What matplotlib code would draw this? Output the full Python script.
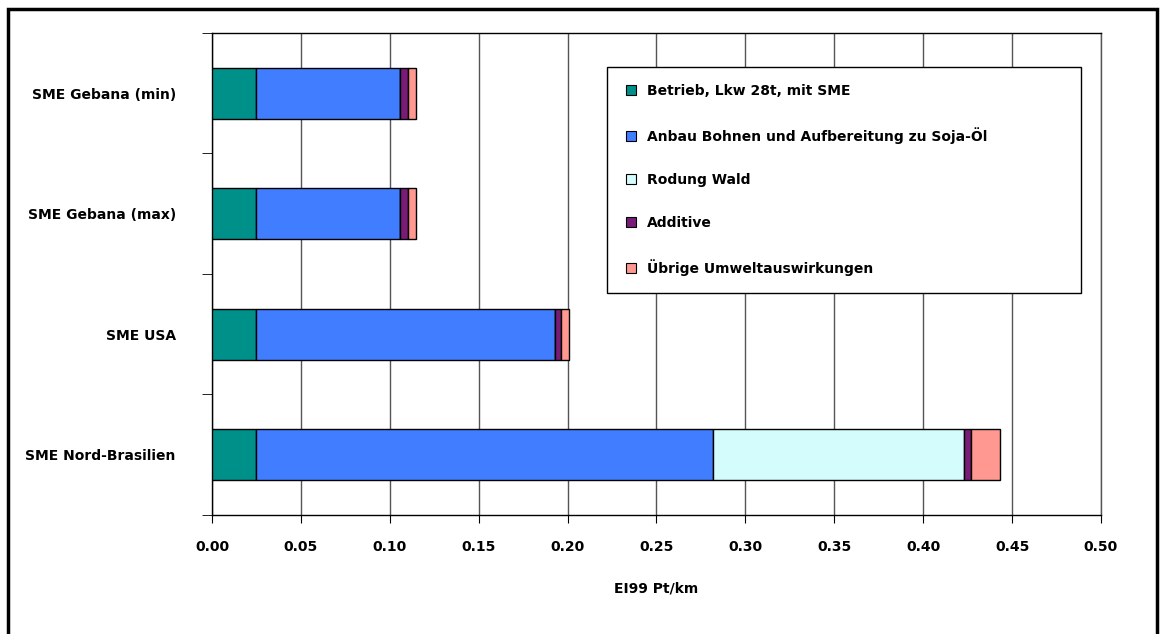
import matplotlib.pyplot as plt
import matplotlib.patches as mpatches
from matplotlib.lines import Line2D
import numpy as np

plt.rcParams['font.family'] = ['DejaVu Sans']
plt.rcParams['font.weight'] = 'bold'
plt.rcParams['axes.labelweight'] = 'bold'

# Kategorien (von unten nach oben)
kategorien = ['SME Nord-Brasilien', 'SME USA', 'SME Gebana (max)', 'SME Gebana (min)']

# Beiträge in EI99 Pt/km
betrieb = [0.025, 0.025, 0.025, 0.025]
anbau = [0.257, 0.168, 0.081, 0.081]
rodung = [0.141, 0.0, 0.0, 0.0]
additive = [0.004, 0.0035, 0.004, 0.004]
uebrige = [0.016, 0.0045, 0.005, 0.0045]

serien = [
    ('Betrieb, Lkw 28t, mit SME', betrieb, '#00908A'),
    ('Anbau Bohnen und Aufbereitung zu Soja-Öl', anbau, '#417EFF'),
    ('Rodung Wald', rodung, '#D4FCFC'),
    ('Additive', additive, '#781C78'),
    ('Übrige Umweltauswirkungen', uebrige, '#FF9890'),
]

fig = plt.figure(figsize=(11.62, 6.34), dpi=100)
ax = fig.add_axes([0.1824, 0.1877, 0.7651, 0.7603])

y = np.arange(len(kategorien))
links = np.zeros(len(kategorien))
for name, werte, farbe in serien:
    werte = np.array(werte)
    ax.barh(y, werte, left=links, height=0.42, color=farbe,
            edgecolor='black', linewidth=1, zorder=3)
    links += werte

ax.set_xlim(0, 0.5)
ax.set_ylim(-0.5, 3.5)
ax.set_xticks(np.arange(0, 0.5001, 0.05))
ax.set_xticklabels([f'{v:.2f}' for v in np.arange(0, 0.5001, 0.05)], fontsize=10)
ax.set_yticks(y)
ax.set_yticklabels(kategorien, fontsize=10)
ax.set_yticks(np.arange(-0.5, 3.6, 1.0), minor=True)
ax.tick_params(axis='y', which='major', length=0, pad=26)
ax.tick_params(axis='y', which='minor', length=7, direction='out', color='black')
ax.tick_params(axis='x', length=6, direction='out', pad=12)

ax.grid(axis='x', color='#555555', linewidth=1, zorder=0)
ax.set_axisbelow(True)
ax.spines['left'].set_color('black')
ax.spines['bottom'].set_color('black')
ax.spines['top'].set_color('black')
ax.spines['right'].set_color('#555555')
for s in ax.spines.values():
    s.set_linewidth(1)

ax.set_xlabel('EI99 Pt/km', fontsize=10, labelpad=20)

# Legende mit kleinen Quadraten
handles = [Line2D([], [], linestyle='none', marker='s', markersize=7,
                  markerfacecolor=farbe, markeredgecolor='black',
                  markeredgewidth=0.8)
           for _, _, farbe in serien]
labels = [name for name, _, _ in serien]
leg = ax.legend(handles, labels, loc='upper left',
                bbox_to_anchor=(0.444, 0.467, 0.5335, 0.462), mode='expand',
                borderaxespad=0, fontsize=10, handlelength=1.1, numpoints=1,
                handletextpad=0.6, labelspacing=2.1, borderpad=1.2,
                fancybox=False, framealpha=1, edgecolor='black')
leg.get_frame().set_linewidth(1)
leg.set_zorder(5)

# Rahmen um die gesamte Grafik
rahmen = mpatches.Rectangle((8 / 1162, -0.05), (1157 - 8) / 1162, 1.05 - 9 / 634,
                            transform=fig.transFigure, fill=False,
                            edgecolor='black', linewidth=2.5, clip_on=False)
fig.patches.append(rahmen)

fig.savefig('out.png', dpi=100)
